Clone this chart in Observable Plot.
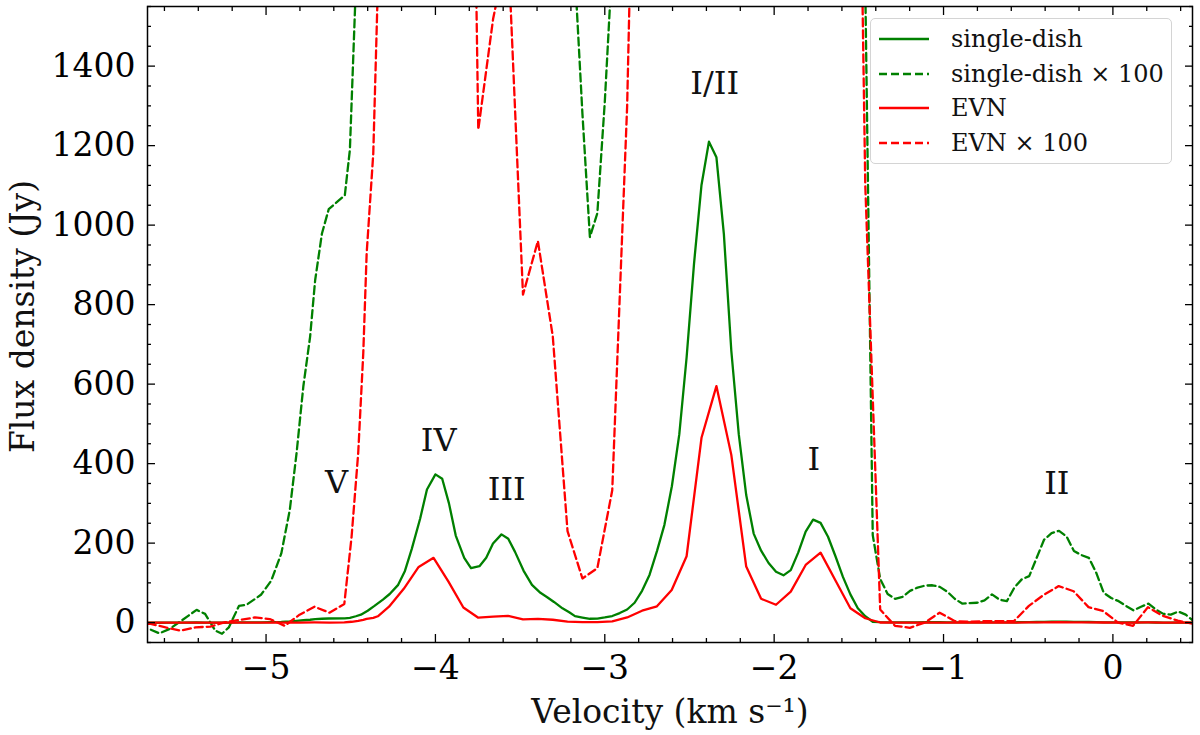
<!DOCTYPE html>
<html>
<head>
<meta charset="utf-8">
<script src="https://cdn.jsdelivr.net/npm/d3@7"></script>
<script src="https://cdn.jsdelivr.net/npm/@observablehq/plot@0.6"></script>
<style>
  body { margin: 0; background: white; font-family: "DejaVu Serif", serif; }
  #wrap { position: relative; width: 1200px; height: 735px; }
  #legend {
    position: absolute; left: 870px; top: 18px; width: 302px; height: 146px;
    box-sizing: border-box; border: 1.5px solid #d4d4d4; border-radius: 5px;
    background: rgba(255,255,255,0.85); font-size: 24px; color: #111;
  }
  .row { position: absolute; left: 0; height: 30px; display: flex; align-items: center; }
  .row svg { margin-left: 8px; margin-right: 22px; }
</style>
</head>
<body>
<div id="wrap">
  <div id="chart"></div>
  <div id="legend"></div>
</div>
<script>
// single-dish spectrum (Jy)
const sdVel = [-5.75, -5.69, -5.63, -5.57, -5.50, -5.41, -5.36, -5.30, -5.26, -5.22, -5.16, -5.115, -5.03, -4.97,
  -4.91, -4.86, -4.82, -4.78, -4.74, -4.71, -4.67, -4.63, -4.535, -4.505, -4.47, -4.44, -4.40, -4.36, -4.31, -4.27,
  -4.22, -4.18, -4.14, -4.09, -4.05, -4.00, -3.96, -3.92, -3.88, -3.83, -3.79, -3.74, -3.70, -3.66, -3.61, -3.57,
  -3.53, -3.48, -3.43, -3.38, -3.34, -3.30, -3.25, -3.21, -3.176, -3.132, -3.088, -3.044, -3.000, -2.956, -2.912,
  -2.868, -2.824, -2.780, -2.736, -2.692, -2.648, -2.604, -2.560, -2.517, -2.473, -2.429, -2.385, -2.341, -2.297,
  -2.253, -2.209, -2.165, -2.121, -2.077, -2.033, -1.989, -1.945, -1.902, -1.858, -1.814, -1.770, -1.726, -1.682,
  -1.638, -1.594, -1.550, -1.506, -1.462, -1.418, -1.374, -1.330, -1.286, -1.242, -1.198, -1.154, -1.110, -1.066,
  -1.022, -0.978, -0.934, -0.890, -0.846, -0.802, -0.758, -0.714, -0.670, -0.626, -0.582, -0.538, -0.494, -0.450,
  -0.406, -0.362, -0.318, -0.274, -0.230, -0.186, -0.142, -0.098, -0.054, -0.010, 0.034, 0.078, 0.122, 0.166,
  0.210, 0.254, 0.298, 0.342, 0.386, 0.430, 0.474, 0.518];
const sdFlux = [-0.16, -0.16, -0.27, -0.16, 0.05, 0.32, 0.22, -0.20, -0.28, -0.12, 0.42, 0.45, 0.70, 1.05,
  1.74, 2.83, 4.26, 5.94, 7.19, 8.62, 9.79, 10.4, 10.75, 11.9, 16, 20, 30, 42, 58, 72,
  95, 130, 185, 262, 335, 373, 362, 300, 219, 163, 137, 142, 163, 199, 222, 211,
  178, 131, 95, 75, 64, 52, 36, 26, 16.3, 12.8, 9.7, 10.3, 13.1, 16.6, 24,
  33, 50, 80, 120, 180, 246, 343, 474, 667, 904, 1101, 1210, 1171, 978,
  684, 474, 321, 224, 181, 150, 128, 119, 132, 176, 229, 259, 251, 216,
  167, 115, 71, 36, 16, 2.2, 1.1, 0.72, 0.60, 0.65, 0.80, 0.88, 0.93, 0.94,
  0.90, 0.78, 0.60, 0.48, 0.49, 0.50, 0.56, 0.71, 0.58, 0.54, 0.88, 1.09, 1.17, 1.63,
  2.09, 2.25, 2.31, 2.17, 1.80, 1.70, 1.63, 1.25, 0.75, 0.62, 0.54, 0.42, 0.31, 0.40,
  0.48, 0.33, 0.22, 0.20, 0.28, 0.20, 0.05, -0.05];

// EVN spectrum (Jy)
const evnVel = [-5.769, -5.681, -5.593, -5.505, -5.417, -5.329, -5.241, -5.153, -5.066, -4.978, -4.890, -4.802,
  -4.714, -4.626, -4.538, -4.495, -4.456, -4.426, -4.406, -4.367, -4.340, -4.274, -4.187, -4.099, -4.011, -3.923,
  -3.835, -3.747, -3.659, -3.571, -3.483, -3.395, -3.307, -3.220, -3.132, -3.044, -2.956, -2.868, -2.780, -2.692,
  -2.605, -2.517, -2.429, -2.341, -2.253, -2.165, -2.077, -1.989, -1.902, -1.814, -1.726, -1.638, -1.550, -1.462,
  -1.374, -1.287, -1.199, -1.111, -1.023, -0.935, -0.847, -0.760, -0.672, -0.584, -0.496, -0.408, -0.320, -0.232,
  -0.144, -0.057, 0.031, 0.119, 0.207, 0.295, 0.383, 0.471, 0.558];
const evnFlux = [-0.03, -0.03, -0.12, -0.20, -0.12, -0.10, 0.01, 0.07, 0.13, 0.09, -0.08, 0.20,
  0.40, 0.25, 0.47, 2.16, 4.26, 6.78, 9.29, 11.8, 16, 40, 85, 140, 163, 103,
  38, 12.4, 15.2, 17, 8.25, 9.6, 7.2, 2.3, 1.11, 1.37, 3.33, 13, 30, 41,
  82, 167, 465, 595, 422, 141, 60, 45, 78, 145, 176, 106, 36, 11,
  0.33, -0.08, -0.13, 0.0, 0.25, 0.04, 0.02, 0.04, 0.04, 0.04, 0.42, 0.70, 0.92, 0.79,
  0.39, 0.29, 0.0, -0.08, 0.39, 0.17, 0.05, -0.03, -0.20];

const boost = 100;

// component labels
const compNames = ["V", "IV", "III", "I/II", "I", "II"];
const compVel = [-4.584, -3.981, -3.579, -2.351, -1.766, -0.331];
const compFlux = [352, 458, 335, 1356, 410, 350];

const xTicks = [-5, -4, -3, -2, -1, 0];
const xMinor = d3.range(-5.6, 0.41, 0.2).map(v => +v.toFixed(1)).filter(v => !xTicks.includes(v));
const yTicks = [0, 200, 400, 600, 800, 1000, 1200, 1400];
const yMinor = d3.range(-50, 1551, 50).filter(v => !yTicks.includes(v));

const seriesNames = ["single-dish", "single-dish × 100", "EVN", "EVN × 100"];
const seriesColors = ["#008000", "#008000", "#ff0000", "#ff0000"];
const seriesDash = [null, "8,4", null, "8,4"];

const sd = sdVel.map((v, i) => ({v, f: sdFlux[i]}));
const evn = evnVel.map((v, i) => ({v, f: evnFlux[i]}));

const fmt = d3.format("d");
const lw = 2.3;

let chart = Plot.plot({
  width: 1200,
  height: 735,
  marginLeft: 147,
  marginRight: 8,
  marginTop: 6,
  marginBottom: 93,
  style: {fontFamily: "'DejaVu Serif', serif", background: "white", color: "black"},
  x: {domain: [-5.7, 0.47]},
  y: {domain: [-50, 1550]},
  marks: [
    Plot.line(sd, {x: "v", y: "f", stroke: seriesColors[0], strokeWidth: lw, clip: true}),
    Plot.line(sd, {x: "v", y: d => d.f * boost, stroke: seriesColors[1], strokeWidth: lw, strokeDasharray: seriesDash[1], clip: true}),
    Plot.line(evn, {x: "v", y: "f", stroke: seriesColors[2], strokeWidth: lw, clip: true}),
    Plot.line(evn, {x: "v", y: d => d.f * boost, stroke: seriesColors[3], strokeWidth: lw, strokeDasharray: seriesDash[3], clip: true}),
    Plot.text(compNames, {x: (d, i) => compVel[i], y: (d, i) => compFlux[i], text: d => d, fontSize: 32, fill: "#111"}),
    Plot.frame({stroke: "black", strokeWidth: 1.5}),
    // major ticks pointing inward, labels outside
    Plot.axisX(xTicks, {anchor: "bottom", tickSize: -8, tickPadding: 21, tickFormat: fmt, fontSize: 33, label: null, strokeWidth: 1.3}),
    Plot.axisX(xTicks, {anchor: "top", tickSize: -8, tickFormat: () => "", label: null, strokeWidth: 1.3}),
    Plot.axisX(xMinor, {anchor: "bottom", tickSize: -4, tickFormat: () => "", label: null, strokeWidth: 1.3}),
    Plot.axisX(xMinor, {anchor: "top", tickSize: -4, tickFormat: () => "", label: null, strokeWidth: 1.3}),
    Plot.axisY(yTicks, {anchor: "left", tickSize: -8, tickPadding: 20, tickFormat: fmt, fontSize: 33, label: null, strokeWidth: 1.3}),
    Plot.axisY(yTicks, {anchor: "right", tickSize: -8, tickFormat: () => "", label: null, strokeWidth: 1.3}),
    Plot.axisY(yMinor, {anchor: "left", tickSize: -4, tickFormat: () => "", label: null, strokeWidth: 1.3}),
    Plot.axisY(yMinor, {anchor: "right", tickSize: -4, tickFormat: () => "", label: null, strokeWidth: 1.3}),
    Plot.text(["Velocity (km s⁻¹)"], {frameAnchor: "bottom", textAnchor: "middle", lineAnchor: "middle", dy: 70, fontSize: 33, fill: "#111"}),
    Plot.text(["Flux density (Jy)"], {frameAnchor: "left", textAnchor: "middle", lineAnchor: "middle", dx: -124, dy: -8, rotate: -90, fontSize: 33, fill: "#111"})
  ]
})

d3.select('#chart').append(() => chart)

// legend box in the upper right
const legend = d3.select('#legend')
const rowTops = [5, 40, 74, 109]
seriesNames.forEach((name, i) => {
  const row = legend.append('div').attr('class', 'row').style('top', rowTops[i] + 'px')
  const s = row.append('svg').attr('width', 50).attr('height', 10)
  s.append('line').attr('x1', 0).attr('x2', 50).attr('y1', 5).attr('y2', 5)
    .attr('stroke', seriesColors[i]).attr('stroke-width', lw)
    .attr('stroke-dasharray', seriesDash[i])
  row.append('span').text(name)
})
</script>
</body>
</html>
